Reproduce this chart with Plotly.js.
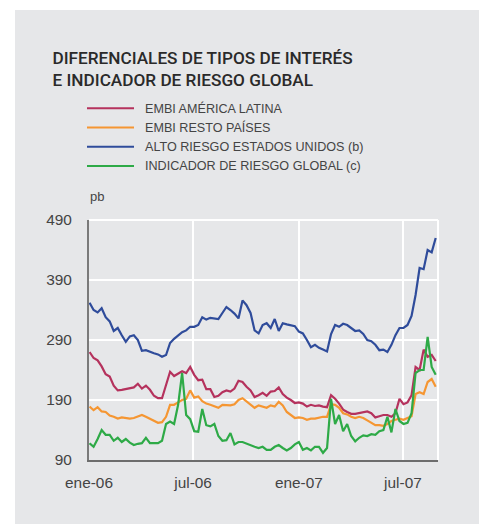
<!DOCTYPE html>
<html>
<head>
<meta charset="utf-8">
<script src="https://cdn.plot.ly/plotly-3.0.1.min.js"></script>
<style>
  html, body { margin: 0; padding: 0; background: #ffffff; }
  #chart { position: absolute; left: 15px; top: 10px; width: 464px; height: 514px; }
</style>
</head>
<body>
<div id="chart"></div>
<script>
// ---- data (weekly readings, pb) ----
const startDate = '2006-01-02';
const nWeeks = 87;
const seriesNames = ['EMBI AMÉRICA LATINA', 'EMBI RESTO PAÍSES', 'ALTO RIESGO ESTADOS UNIDOS (b)', 'INDICADOR DE RIESGO GLOBAL (c)'];
const seriesColors = ['#b5325d', '#f59632', '#2f4c9b', '#2eaa47'];

const embiLatam = [270,260,256,246,233,229,214,206,207,208,209,211,217,209,214,207,197,193,193,215,
  237,230,234,238,235,245,232,223,224,208,208,195,197,203,206,204,209,222,220,212,
  206,195,198,202,197,204,205,211,200,194,190,185,186,184,179,182,180,181,179,178,
  198,192,184,174,170,167,167,168,169,171,168,161,163,165,165,162,168,192,183,186,
  198,245,240,274,262,265,255];
const embiResto = [179,173,178,171,170,164,162,159,161,160,159,160,163,165,162,159,155,152,153,162,
  182,182,186,190,192,206,194,196,188,184,182,180,177,182,182,181,183,190,193,188,
  182,177,181,179,177,181,179,187,181,170,165,160,161,160,157,159,159,161,162,162,
  183,182,177,168,166,162,160,162,160,156,152,148,148,147,150,155,157,159,157,160,
  163,200,203,200,220,225,212];
const altoRiesgoEEUU = [352,340,336,343,328,321,305,310,298,287,296,298,290,272,273,270,268,266,262,265,
  285,292,298,303,306,312,312,315,328,324,327,326,325,335,345,340,334,326,356,348,
  335,306,301,315,318,310,325,305,318,316,315,313,304,301,290,278,282,277,274,271,
  300,315,312,317,315,310,305,306,300,290,288,282,273,274,270,282,298,310,310,315,
  330,365,410,408,440,436,460];
const riesgoGlobal = [118,112,125,140,132,132,122,127,120,125,119,115,117,118,127,118,118,118,122,150,
  154,150,182,235,165,158,138,137,175,148,146,150,130,122,123,135,116,120,120,117,
  115,112,110,112,107,107,112,115,110,106,110,116,120,107,110,106,112,112,102,110,
  192,150,165,138,150,130,121,127,131,130,133,132,138,140,162,136,175,155,150,152,
  168,235,240,240,295,245,232];

const yTickVals = [90, 190, 290, 390, 490];
const xTickVals = ['2006-01-01', '2006-07-01', '2007-01-01', '2007-07-01'];
const xTickText = ['ene-06', 'jul-06', 'ene-07', 'jul-07'];
const xRange = ['2006-01-01', '2007-08-31'];
const yRange = [90, 490];

// ---- build dates ----
const dates = [];
{
  const d0 = new Date(startDate + 'T00:00:00Z');
  for (let i = 0; i < nWeeks; i++) {
    const d = new Date(d0.getTime() + i * 7 * 86400000);
    dates.push(d.toISOString().slice(0, 10));
  }
}

const allSeries = [embiLatam, embiResto, altoRiesgoEEUU, riesgoGlobal];
const drawOrder = [2, 0, 1, 3];
const traces = drawOrder.map(k => ({
  type: 'scatter', mode: 'lines', x: dates, y: allSeries[k], name: seriesNames[k],
  line: { color: seriesColors[k], width: 2.2 }, showlegend: false, hoverinfo: 'skip'
}));

const bg = '#e6e7e9';
const txt = '#444444';
const font = 'Liberation Sans, Arial, sans-serif';

// custom legend (shapes + annotations)
const legendTop = 98.3, legendStep = 19.2;
const W = 464, H = 514;
const shapes = [];
const annotations = [];
seriesNames.forEach((nm, i) => {
  const yy = 1 - (legendTop + i * legendStep) / H;
  shapes.push({ type: 'line', xref: 'paper', yref: 'paper',
    x0: (72 - 74) / (W - 74 - 41), x1: (119 - 74) / (W - 74 - 41),
    y0: (yy * H - 64) / (H - 210 - 64), y1: (yy * H - 64) / (H - 210 - 64),
    line: { color: seriesColors[i], width: 2 } });
  annotations.push({ xref: 'paper', yref: 'paper', x: (127.5 - 74) / (W - 74 - 41),
    y: (yy * H - 64) / (H - 210 - 64), xanchor: 'left', yanchor: 'middle', showarrow: false,
    text: nm, font: { family: font, size: 12.6, color: txt } });
});
// 'pb' unit label
annotations.push({ xref: 'paper', yref: 'paper', x: (73 - 74) / (W - 74 - 41),
  y: ((H - 186.7) - 64) / (H - 210 - 64), xanchor: 'left', yanchor: 'middle', showarrow: false,
  text: 'pb', font: { family: font, size: 13, color: txt } });
// right white border line and top line
shapes.push({ type: 'line', xref: 'paper', yref: 'paper', x0: 1, x1: 1, y0: 0, y1: 1,
  layer: 'below', line: { color: '#ffffff', width: 2 } });
shapes.push({ type: 'line', xref: 'paper', yref: 'paper', x0: 0, x1: 1, y0: 1, y1: 1,
  layer: 'below', line: { color: '#ffffff', width: 2 } });

const layout = {
  width: W, height: H,
  paper_bgcolor: bg, plot_bgcolor: bg,
  margin: { l: 74, r: 41, t: 210, b: 64 },
  title: {
    text: 'DIFERENCIALES DE TIPOS DE INTERÉS<br>E INDICADOR DE RIESGO GLOBAL',
    font: { family: 'Roboto, Liberation Sans, sans-serif', size: 17.2, color: '#2a2a2a', weight: 500 },
    xref: 'container', yref: 'container', x: 37.5 / W, xanchor: 'left',
    y: 1 - 54 / H, yanchor: 'top'
  },
  xaxis: {
    type: 'date', range: xRange, tickvals: xTickVals, ticktext: xTickText,
    showgrid: true, gridcolor: '#ffffff', gridwidth: 2,
    showline: true, linecolor: '#6d6d6d', linewidth: 1.5,
    ticks: '', ticklabelstandoff: 8,
    tickfont: { family: font, size: 15.4, color: txt }, zeroline: false, fixedrange: true
  },
  yaxis: {
    range: yRange, tickvals: yTickVals,
    showgrid: true, gridcolor: '#ffffff', gridwidth: 2,
    showline: true, linecolor: '#7a7a7a', linewidth: 2,
    ticks: '', ticklabelstandoff: 12,
    tickfont: { family: font, size: 15.4, color: txt }, zeroline: false, fixedrange: true
  },
  shapes: shapes,
  annotations: annotations,
  showlegend: false
};

Plotly.newPlot('chart', traces, layout, { displayModeBar: false, staticPlot: true });
</script>
</body>
</html>
